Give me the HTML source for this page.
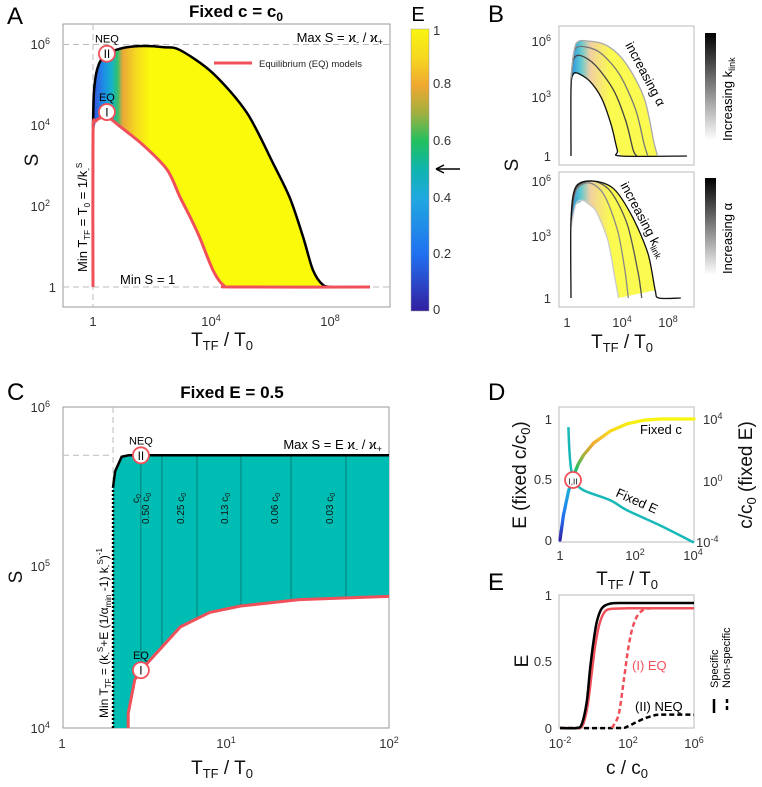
<!DOCTYPE html>
<html><head><meta charset="utf-8"><style>
html,body{margin:0;padding:0;background:#fff;}
svg{display:block;font-family:"Liberation Sans","DejaVu Sans",sans-serif;}
.tk{font-size:13px;fill:#333;}
.lab{font-size:19px;fill:#111;}
.pl{font-size:24px;fill:#000;}
</style></head><body>
<svg id="fig" width="762" height="787" viewBox="0 0 762 787" xmlns="http://www.w3.org/2000/svg">
<defs>
<linearGradient id="gradA" gradientUnits="userSpaceOnUse" x1="93" y1="0" x2="150" y2="0">
<stop offset="0" stop-color="#3550d8"/><stop offset="0.18" stop-color="#1e8be8"/><stop offset="0.33" stop-color="#14b4c8"/><stop offset="0.43" stop-color="#30c070"/><stop offset="0.52" stop-color="#e8a838"/><stop offset="0.75" stop-color="#f6d820"/><stop offset="1" stop-color="#fafa0a"/>
</linearGradient>
<linearGradient id="gradB" gradientUnits="userSpaceOnUse" x1="571" y1="0" x2="610" y2="0">
<stop offset="0" stop-color="#2a90e0"/><stop offset="0.25" stop-color="#60c8d0"/><stop offset="0.5" stop-color="#f2d0a0"/><stop offset="1" stop-color="#fafa50"/>
</linearGradient>
<linearGradient id="gradCB" x1="0" y1="1" x2="0" y2="0">
<stop offset="0" stop-color="#3320a0"/><stop offset="0.2" stop-color="#2070f0"/><stop offset="0.4" stop-color="#20a8e0"/><stop offset="0.5" stop-color="#10b4b0"/><stop offset="0.6" stop-color="#20c060"/><stop offset="0.7" stop-color="#a0b040"/><stop offset="0.8" stop-color="#f0a830"/><stop offset="0.9" stop-color="#f6d820"/><stop offset="1" stop-color="#f8f510"/>
</linearGradient>
<linearGradient id="gradGray" x1="0" y1="1" x2="0" y2="0">
<stop offset="0" stop-color="#fff"/><stop offset="1" stop-color="#000"/>
</linearGradient>
</defs>

<text class="pl" x="7" y="24">A</text>
<text class="pl" x="488" y="22">B</text>
<text class="pl" x="7" y="400">C</text>
<text class="pl" x="488" y="400">D</text>
<text class="pl" x="488" y="590">E</text>
<text x="236" y="17" text-anchor="middle" font-size="17" font-weight="bold">Fixed c = c<tspan font-size="12" dy="4">0</tspan></text>
<text x="232" y="398" text-anchor="middle" font-size="17" font-weight="bold">Fixed E = 0.5</text>

<rect x="63" y="24" width="327" height="283" fill="#fff" stroke="#999"/>
<g id="layerA1"></g>
<line x1="63" y1="44.5" x2="390" y2="44.5" stroke="#bbb" stroke-dasharray="6,4"/>
<line x1="63" y1="287" x2="390" y2="287" stroke="#bbb" stroke-dasharray="6,4"/>
<line x1="93" y1="24" x2="93" y2="307" stroke="#bbb" stroke-dasharray="6,4"/>
<g id="layerA2"></g>
<text x="383" y="42" text-anchor="end" font-size="13">Max S = ϰ<tspan font-size="9" dy="3">-</tspan><tspan dy="-3"> / ϰ</tspan><tspan font-size="9" dy="3">+</tspan></text>
<line x1="214" y1="63" x2="252" y2="63" stroke="#f0505a" stroke-width="3"/>
<text x="259" y="67" font-size="9.5" fill="#222">Equilibrium (EQ) models</text>
<text x="120" y="284" font-size="13">Min S = 1</text>
<text transform="translate(87,272) rotate(-90)" font-size="13">Min T<tspan font-size="8" dy="3">TF</tspan><tspan dy="-3"> = T</tspan><tspan font-size="8" dy="3">0</tspan><tspan dy="-3"> = 1/k</tspan><tspan font-size="8" dy="4">-</tspan><tspan font-size="8" dy="-9">S</tspan></text>
<text class="tk" x="93" y="326" text-anchor="middle">1</text>
<text class="tk" x="211" y="326" text-anchor="middle">10<tspan font-size="9" dy="-5">4</tspan></text>
<text class="tk" x="330" y="326" text-anchor="middle">10<tspan font-size="9" dy="-5">8</tspan></text>
<text class="tk" x="50" y="49" text-anchor="end">10<tspan font-size="9" dy="-5">6</tspan></text>
<text class="tk" x="50" y="130" text-anchor="end">10<tspan font-size="9" dy="-5">4</tspan></text>
<text class="tk" x="50" y="211" text-anchor="end">10<tspan font-size="9" dy="-5">2</tspan></text>
<text class="tk" x="56" y="292" text-anchor="end">1</text>
<text class="lab" transform="translate(38,160) rotate(-90)" text-anchor="middle" font-size="22">S</text>
<text class="lab" x="222" y="346" text-anchor="middle">T<tspan font-size="13" dy="4">TF</tspan><tspan dy="-4"> / T</tspan><tspan font-size="13" dy="4">0</tspan></text>

<rect x="411" y="29" width="18" height="282" fill="url(#gradCB)" stroke="#999" stroke-width="0.5"/>
<text x="418" y="21" text-anchor="middle" font-size="20">E</text>
<text class="tk" x="433" y="35">1</text>
<text class="tk" x="433" y="88">0.8</text>
<text class="tk" x="433" y="145">0.6</text>
<text class="tk" x="433" y="202">0.4</text>
<text class="tk" x="433" y="258">0.2</text>
<text class="tk" x="433" y="314">0</text>
<line x1="437" y1="169" x2="460" y2="169" stroke="#000" stroke-width="1.5"/>
<path d="M436,169 l8,-4 M436,169 l8,4" stroke="#000" stroke-width="1.5" fill="none"/>

<rect x="559" y="26" width="135" height="139" fill="#fff" stroke="#bbb"/>
<rect x="559" y="172" width="135" height="135" fill="#fff" stroke="#bbb"/>
<g id="layerB"></g>
<rect x="705" y="33" width="11" height="107" fill="url(#gradGray)"/>
<rect x="705" y="178" width="11" height="97" fill="url(#gradGray)"/>
<text transform="translate(732,141) rotate(-90)" font-size="13">Increasing k<tspan font-size="9" dy="3">link</tspan></text>
<text transform="translate(732,274) rotate(-90)" font-size="13">Increasing α</text>
<text transform="translate(625,45) rotate(62)" font-size="13">increasing α</text>
<text transform="translate(620,185) rotate(62)" font-size="13">increasing k<tspan font-size="9" dy="3">link</tspan></text>
<text class="tk" x="551" y="46" text-anchor="end">10<tspan font-size="9" dy="-5">6</tspan></text>
<text class="tk" x="551" y="102" text-anchor="end">10<tspan font-size="9" dy="-5">3</tspan></text>
<text class="tk" x="551" y="161" text-anchor="end">1</text>
<text class="tk" x="551" y="186" text-anchor="end">10<tspan font-size="9" dy="-5">6</tspan></text>
<text class="tk" x="551" y="241" text-anchor="end">10<tspan font-size="9" dy="-5">3</tspan></text>
<text class="tk" x="551" y="303" text-anchor="end">1</text>
<text class="tk" x="567" y="327" text-anchor="middle">1</text>
<text class="tk" x="622" y="327" text-anchor="middle">10<tspan font-size="9" dy="-5">4</tspan></text>
<text class="tk" x="668" y="327" text-anchor="middle">10<tspan font-size="9" dy="-5">8</tspan></text>
<text class="lab" transform="translate(518,165) rotate(-90)" text-anchor="middle" font-size="22">S</text>
<text class="lab" x="622" y="348" text-anchor="middle">T<tspan font-size="13" dy="4">TF</tspan><tspan dy="-4"> / T</tspan><tspan font-size="13" dy="4">0</tspan></text>

<rect x="63" y="407" width="326" height="321" fill="#fff" stroke="#999"/>
<g id="layerC"></g>
<text x="382" y="449" text-anchor="end" font-size="13">Max S = E ϰ<tspan font-size="9" dy="3">-</tspan><tspan dy="-3"> / ϰ</tspan><tspan font-size="9" dy="3">+</tspan></text>
<text transform="translate(108,718) rotate(-90)" font-size="12">Min T<tspan font-size="8" dy="3">TF</tspan><tspan dy="-3"> = (k</tspan><tspan font-size="8" dy="3">-</tspan><tspan font-size="8" dy="-8">S</tspan><tspan dy="5">+E (1/α</tspan><tspan font-size="8" dy="3">min</tspan><tspan dy="-3"> -1) k</tspan><tspan font-size="8" dy="3">-</tspan><tspan font-size="8" dy="-8">S</tspan><tspan dy="5">)</tspan><tspan font-size="8" dy="-6">-1</tspan></text>
<text class="tk" x="50" y="412" text-anchor="end" fill="#555">10<tspan font-size="9" dy="-5">6</tspan></text>
<text class="tk" x="50" y="571" text-anchor="end">10<tspan font-size="9" dy="-5">5</tspan></text>
<text class="tk" x="50" y="733" text-anchor="end">10<tspan font-size="9" dy="-5">4</tspan></text>
<text class="tk" x="62" y="748" text-anchor="middle">1</text>
<text class="tk" x="226" y="748" text-anchor="middle">10<tspan font-size="9" dy="-5">1</tspan></text>
<text class="tk" x="389" y="748" text-anchor="middle">10<tspan font-size="9" dy="-5">2</tspan></text>
<text class="lab" transform="translate(22,577) rotate(-90)" text-anchor="middle" font-size="22">S</text>
<text class="lab" x="222" y="774" text-anchor="middle">T<tspan font-size="13" dy="4">TF</tspan><tspan dy="-4"> / T</tspan><tspan font-size="13" dy="4">0</tspan></text>

<rect x="559" y="407" width="135" height="135" fill="#fff" stroke="#bbb"/>
<g id="layerD"></g>
<text x="640" y="434" font-size="13">Fixed c</text>
<text transform="translate(615,496) rotate(24)" font-size="13">Fixed E</text>
<text class="tk" x="552" y="424" text-anchor="end">1</text>
<text class="tk" x="552" y="484" text-anchor="end">0.5</text>
<text class="tk" x="552" y="545" text-anchor="end">0</text>
<text class="tk" x="703" y="424">10<tspan font-size="9" dy="-5">4</tspan></text>
<text class="tk" x="703" y="486">10<tspan font-size="9" dy="-5">0</tspan></text>
<text class="tk" x="696" y="547">10<tspan font-size="9" dy="-5">-4</tspan></text>
<text class="tk" x="560" y="560" text-anchor="middle">1</text>
<text class="tk" x="635" y="560" text-anchor="middle">10<tspan font-size="9" dy="-5">2</tspan></text>
<text class="tk" x="693" y="560" text-anchor="middle">10<tspan font-size="9" dy="-5">4</tspan></text>
<text class="lab" transform="translate(526,475) rotate(-90)" text-anchor="middle">E (fixed c/c<tspan font-size="13" dy="4">0</tspan><tspan dy="-4">)</tspan></text>
<text class="lab" transform="translate(752,475) rotate(-90)" text-anchor="middle">c/c<tspan font-size="13" dy="4">0</tspan><tspan dy="-4"> (fixed E)</tspan></text>
<text class="lab" x="627" y="585" text-anchor="middle">T<tspan font-size="13" dy="4">TF</tspan><tspan dy="-4"> / T</tspan><tspan font-size="13" dy="4">0</tspan></text>

<rect x="559" y="595" width="135" height="133" fill="#fff" stroke="#bbb"/>
<g id="layerE"></g>
<text x="632" y="670" font-size="13" fill="#f0505a">(I) EQ</text>
<text x="635" y="711" font-size="13">(II) NEQ</text>
<text transform="translate(718,688) rotate(-90)" font-size="11">Specific</text>
<text transform="translate(730,688) rotate(-90)" font-size="11">Non-specific</text>
<line x1="714" y1="699" x2="714" y2="713" stroke="#000" stroke-width="2.5"/>
<line x1="727" y1="699" x2="727" y2="713" stroke="#000" stroke-width="2.5" stroke-dasharray="4,3"/>
<text class="tk" x="552" y="600" text-anchor="end">1</text>
<text class="tk" x="552" y="666" text-anchor="end">0.5</text>
<text class="tk" x="552" y="733" text-anchor="end">0</text>
<text class="tk" x="560" y="748" text-anchor="middle">10<tspan font-size="9" dy="-5">-2</tspan></text>
<text class="tk" x="628" y="748" text-anchor="middle">10<tspan font-size="9" dy="-5">2</tspan></text>
<text class="tk" x="694" y="748" text-anchor="middle">10<tspan font-size="9" dy="-5">6</tspan></text>
<text class="lab" transform="translate(528,661) rotate(-90)" text-anchor="middle" font-size="22">E</text>
<text class="lab" x="627" y="774" text-anchor="middle">c / c<tspan font-size="13" dy="4">0</tspan></text>
</svg>

<script>
// ---- Panel A data (log10 T, log10 S)
const aUpperT = [0,0.03,0.15,0.4,1,1.7,2.4,2.94,4.05,5.2,6.08,6.65,7.1,7.43,7.77,8.1];
const aUpperS = [3.9,4.8,5.4,5.72,5.9,5.95,5.92,5.85,5.28,4.3,3.06,2.2,1.23,0.42,0.05,0];
const aEqT = [0,0,0.1,0.47,0.9,1.7,2.5,2.94,3.3,3.6,4.05,4.4,4.8,9.36];
const aEqS = [0,3.75,4.1,4.2,3.97,3.5,2.9,2.22,1.7,1.23,0.42,0.05,0,0];
// ---- Panel B data
const bTopT = [[0,0,0.15,0.5,1.5,2.5,3.3,3.8,4.1,9.5],[0,0.2,0.8,2,3.5,4.5,5.1,5.4],[0,0.3,1.2,2.5,4,5.3,6,6.3],[0,0.4,1.5,3,4.5,6,6.8,7.1]];
const bTopS = [[0,3.5,4.2,4.3,3.9,3.0,1.6,0.3,0,0],[3.8,5,5.2,4.7,3.4,1.8,0.3,0],[4,5.5,5.65,5.3,4.2,2.4,0.6,0],[4.1,5.8,5.95,5.7,4.8,3,0.7,0]];
const bBotT = [[0,0.4,1,2,3,3.6,3.9],[0,0.4,1.5,2.7,3.8,4.4,4.7],[0,0.4,1.7,3.2,4.6,5.5,5.8],[0,0,0.4,1.8,3.5,5,6.3,6.9,7.2,9]];
const bBotS = [[3.6,4.8,5,4.5,3,1,0],[4,5.5,5.9,5.3,3.5,1.5,0],[4,5.6,6,5.5,3.8,1.3,0],[0,4,5.7,6,5.6,4.2,2.3,0.4,0,0]];
// ---- Panel C data (log10 T, log10 S)
const cUpperT = [0.307,0.307,0.32,0.36,0.4,2];
const cUpperS = [4,5.5,5.6,5.69,5.699,5.699];
const cEqT = [0.4,0.4,0.44,0.478,0.72,0.9,1.09,1.45,2];
const cEqS = [4,4.09,4.3,4.36,4.63,4.72,4.76,4.8,4.82];
const cConcT = [0.478,0.607,0.822,1.092,1.399,1.736];
const cConcLabels = ["c","0.50 c","0.25 c","0.13 c","0.06 c","0.03 c"];
// ---- Panel D data
const dCT = [0,0.1,0.25,0.4,0.55,0.7,1,1.5,2,2.5,3,4];
const dCE = [0,0.2,0.4,0.53,0.63,0.7,0.8,0.9,0.96,0.99,1,1];
const dET = [0.25,0.28,0.33,0.42,0.7,1.5,2,3,4];
const dEc = [3.5,2,0.8,0,-0.6,-1.25,-1.9,-2.9,-4];
// ---- Panel E data (log10 c, E)
const eNeqSpecC = [-2,-1,-0.7,-0.4,-0.2,0,0.2,0.5,1,2,6];
const eNeqSpecE = [0,0,0.03,0.2,0.45,0.65,0.8,0.9,0.935,0.94,0.94];
const eEqSpecC = [-2,-1,-0.65,-0.35,-0.1,0.1,0.35,0.65,1,2,6];
const eEqSpecE = [0,0,0.02,0.17,0.42,0.62,0.78,0.87,0.895,0.9,0.9];
const eEqNonC = [1.1,1.5,1.8,2.05,2.3,2.6,3.0,3.5,6];
const eEqNonE = [0,0.1,0.35,0.58,0.74,0.84,0.89,0.9,0.9];
const eNeqNonC = [-2,1.5,2,2.5,3,3.5,4,6];
const eNeqNonE = [0,0,0.01,0.04,0.07,0.09,0.1,0.1];

const NS='http://www.w3.org/2000/svg';
function mk(tag, attrs, parent){const e=document.createElementNS(NS,tag);for(const k in attrs)e.setAttribute(k,attrs[k]);parent.appendChild(e);return e;}
function smooth(pts){
  if(pts.length<3) return 'M'+pts.map(p=>p.join(',')).join('L');
  let d='M'+pts[0][0]+','+pts[0][1];
  for(let i=0;i<pts.length-1;i++){
    const p0=pts[i-1]||pts[i],p1=pts[i],p2=pts[i+1],p3=pts[i+2]||p2;
    const t=0.15;
    const c1=[p1[0]+(p2[0]-p0[0])*t,p1[1]+(p2[1]-p0[1])*t];
    const c2=[p2[0]-(p3[0]-p1[0])*t,p2[1]-(p3[1]-p1[1])*t];
    d+='C'+c1.join(',')+' '+c2.join(',')+' '+p2.join(',');
  }
  return d;
}
function pts(xs,ys,fx,fy){return xs.map((x,i)=>[fx(x),fy(ys[i])]);}
function circ(g,x,y,txt,top,name){
  const c=mk('circle',{cx:x,cy:y,r:8,fill:'#fff',stroke:'#f0505a','stroke-width':1.8},g);
  
  
  const t=mk('text',{x:x,y:y+4.5,'text-anchor':'middle','font-size':txt.length>2?8:12},g);t.textContent=txt;
  if(top){const l=mk('text',{x:x,y:y-11,'text-anchor':'middle','font-size':11},g);l.textContent=top;
  
  }
}

// Panel A
const axA=v=>93+v*29.6, ayA=v=>287-v*40.5;
const gA1=document.getElementById('layerA1'), gA2=document.getElementById('layerA2');
const up=pts(aUpperT,aUpperS,axA,ayA), eq=pts(aEqT,aEqS,axA,ayA);
const fillA=mk('path',{d:smooth(up)+'L'+eq.slice(1).reverse().map(p=>p.join(',')).join('L')+'Z',fill:'url(#gradA)'},gA1);


const upA=mk('path',{d:smooth(up),fill:'none',stroke:'#000','stroke-width':2.5},gA2);


const eqA=mk('path',{d:smooth(eq),fill:'none',stroke:'#f0505a','stroke-width':3},gA2);


circ(gA2,axA(0.47),ayA(5.76),'II','NEQ','a-neq');
circ(gA2,axA(0.47),ayA(4.32),'I','EQ','a-eq');

// Panel B
const gB=document.getElementById('layerB');
const axB=v=>571+v*12.2, ayBt=v=>156-v*19.3, ayBb=v=>298-v*19.5;
const t4=pts(bTopT[3],bTopS[3],axB,ayBt), t1=pts(bTopT[0],bTopS[0],axB,ayBt);
const fbt=mk('path',{d:smooth(t4)+'L'+t1.slice(1,9).reverse().map(p=>p.join(',')).join('L')+'Z',fill:'url(#gradB)'},gB);


const b4=pts(bBotT[3],bBotS[3],axB,ayBb), b1=pts(bBotT[0],bBotS[0],axB,ayBb);
const fbb=mk('path',{d:smooth(b4.slice(1,8))+'L'+b1.slice().reverse().map(p=>p.join(',')).join('L')+'Z',fill:'url(#gradB)'},gB);


const topCols=['#111','#444','#777','#aaa'];
bTopT.forEach((xs,i)=>{const p=mk('path',{d:smooth(pts(xs,bTopS[i],axB,ayBt)),fill:'none',stroke:topCols[i],'stroke-width':1.3},gB);

});
const botCols=['#ccc','#888','#555','#111'];
bBotT.forEach((xs,i)=>{const p=mk('path',{d:smooth(pts(xs,bBotS[i],axB,ayBb)),fill:'none',stroke:botCols[i],'stroke-width':1.3},gB);

});

// Panel C
const gC=document.getElementById('layerC');
const axC=v=>63+v*163, ayC=v=>728-(v-4)*160.5;
const cu=pts(cUpperT,cUpperS,axC,ayC), ce=pts(cEqT,cEqS,axC,ayC);
const fC=mk('path',{d:'M'+cu.map(p=>p.join(',')).join('L')+'L'+ce.slice().reverse().map(p=>p.join(',')).join('L')+'Z',fill:'#00bdb3'},gC);


function eqSAt(t){for(let i=1;i<cEqT.length;i++){if(t<=cEqT[i]){const f=(t-cEqT[i-1])/(cEqT[i]-cEqT[i-1]||1);return cEqS[i-1]+f*(cEqS[i]-cEqS[i-1]);}}return cEqS[cEqS.length-1];}
cConcT.forEach((t,i)=>{
  const l=mk('line',{x1:axC(t),y1:ayC(5.699),x2:axC(t),y2:ayC(eqSAt(t)),stroke:'#0a6e68','stroke-width':0.8},gC);
  
  
  const tx=mk('text',{transform:'translate('+(axC(t)-(i?13:2))+','+(i?524:503)+') rotate(-90)','font-size':10,fill:'#111'},gC);
  tx.textContent=cConcLabels[i];
  const s=mk('tspan',{'font-size':7,dy:2},tx);s.textContent='0';
  
  
});
mk('line',{x1:63,y1:ayC(5.699),x2:axC(0.307),y2:ayC(5.699),stroke:'#bbb','stroke-dasharray':'6,4'},gC);
mk('line',{x1:axC(0.307),y1:407,x2:axC(0.307),y2:ayC(5.5),stroke:'#bbb','stroke-dasharray':'6,4'},gC);
const cUp=mk('path',{d:'M'+cu.slice(1).map(p=>p.join(',')).join('L'),fill:'none',stroke:'#000','stroke-width':2.5},gC);


const cMin=mk('line',{x1:axC(0.307),y1:728,x2:axC(0.307),y2:ayC(5.5),stroke:'#000','stroke-width':2.5,'stroke-dasharray':'2,2'},gC);


const cEq=mk('path',{d:'M'+ce.map(p=>p.join(',')).join('L'),fill:'none',stroke:'#f0505a','stroke-width':3,'stroke-linejoin':'round'},gC);


circ(gC,axC(0.478),ayC(5.699),'II','NEQ','c-neq');
circ(gC,axC(0.478),ayC(4.36),'I','EQ','c-eq');

// Panel D
const gD=document.getElementById('layerD');
const axD=v=>560+v*33.5, ayD=v=>540-v*121, ayD2=v=>481-v*15.4;
const cmapS=[[0,[51,32,160]],[0.2,[32,112,240]],[0.4,[32,168,224]],[0.5,[16,180,176]],[0.6,[32,192,96]],[0.7,[160,176,64]],[0.8,[240,168,48]],[0.9,[246,216,32]],[1,[248,245,16]]];
function cmap(v){for(let i=1;i<cmapS.length;i++){if(v<=cmapS[i][0]){const a=cmapS[i-1],b=cmapS[i],f=(v-a[0])/(b[0]-a[0]);return 'rgb('+a[1].map((c,j)=>Math.round(c+f*(b[1][j]-c))).join(',')+')';}}return 'rgb(248,245,16)';}
const fe=pts(dET,dEc,axD,ayD2);
const dE=mk('path',{d:smooth(fe),fill:'none',stroke:'#18b8b8','stroke-width':2.5},gD);


for(let i=0;i<dCT.length-1;i++){
  const n=8;
  for(let k=0;k<n;k++){
    const f0=k/n,f1=(k+1)/n;
    const x0=dCT[i]+f0*(dCT[i+1]-dCT[i]),x1=dCT[i]+f1*(dCT[i+1]-dCT[i]);
    const e0=dCE[i]+f0*(dCE[i+1]-dCE[i]),e1=dCE[i]+f1*(dCE[i+1]-dCE[i]);
    const s=mk('line',{x1:axD(x0),y1:ayD(e0),x2:axD(x1),y2:ayD(e1),stroke:cmap((e0+e1)/2),'stroke-width':3.2,'stroke-linecap':'round'},gD);
    
    
  }
}
circ(gD,573,480,'I,II',null,'d-eq-neq');

// Panel E
const gE=document.getElementById('layerE');
const axE=v=>560+(v+2)*16.75, ayE=v=>728-v*133;
function eLine(xs,ys,col,dash,name){const p=mk('path',{d:smooth(pts(xs,ys,axE,ayE)),fill:'none',stroke:col,'stroke-width':2.5},gE);if(dash)p.setAttribute('stroke-dasharray',dash);

}
eLine(eNeqNonC,eNeqNonE,'#000','5,3','neq-nonspecific-curve');
eLine(eEqNonC,eEqNonE,'#f0505a','5,3','eq-nonspecific-curve');
eLine(eEqSpecC,eEqSpecE,'#f0505a',null,'eq-specific-curve');
eLine(eNeqSpecC,eNeqSpecE,'#000',null,'neq-specific-curve');
</script>
</body></html>
